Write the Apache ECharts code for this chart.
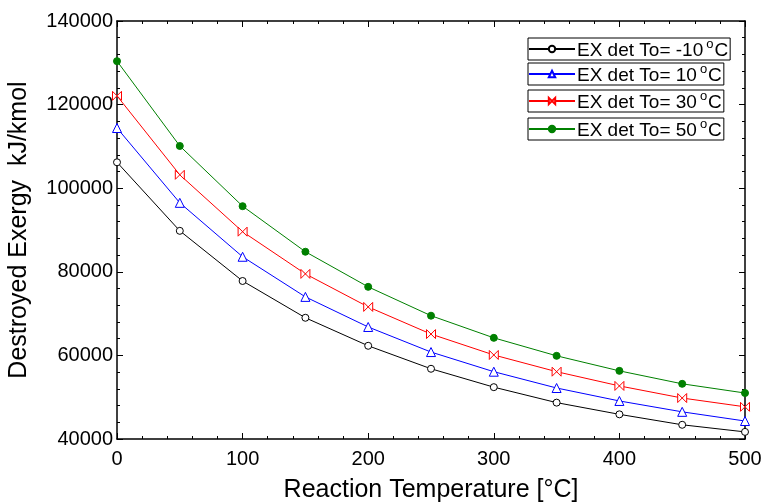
<!DOCTYPE html>
<html><head><meta charset="utf-8">
<script src="https://cdn.jsdelivr.net/npm/echarts@6/dist/echarts.min.js"></script>
<style>html,body{margin:0;padding:0;background:#fff}#c{width:766px;height:504px}</style>
</head><body><div id="c"></div>
<script>
const temps = [0, 50, 100, 150, 200, 250, 300, 350, 400, 450, 500];
const exM10 = [106200, 89800, 77800, 69000, 62300, 56800, 52400, 48700, 45900, 43400, 41700];
const ex10 = [114400, 96500, 83600, 74000, 66800, 60800, 56100, 52200, 49100, 46500, 44300];
const ex30 = [122100, 103200, 89600, 79500, 71600, 65100, 60100, 56100, 52700, 49800, 47700];
const ex50 = [130400, 110100, 95700, 84800, 76400, 69500, 64200, 59900, 56300, 53200, 51000];
const names = ['-10', '10', '30', '50'];
const xTicks = [0, 100, 200, 300, 400, 500];
const yTicks = [40000, 60000, 80000, 100000, 120000, 140000];

const font = '"Liberation Sans", Arial, sans-serif';
const bowtie = 'path://M0,0 L0,10 L10,0 L10,10 Z';
const cfg = [
  {data: exM10, color: '#000000', symbol: 'circle', size: 7, fill: '#ffffff'},
  {data: ex10, color: '#0000ff', symbol: 'triangle', size: 9, fill: '#ffffff'},
  {data: ex30, color: '#ff0000', symbol: bowtie, size: 9, fill: '#ffffff'},
  {data: ex50, color: '#008000', symbol: 'circle', size: 7, fill: '#008000'}
];
const series = cfg.map((c, i) => ({
  name: 'EX det To= ' + names[i],
  type: 'line',
  data: temps.map((t, j) => [t, c.data[j]]),
  symbol: c.symbol,
  symbolSize: c.size,
  showAllSymbol: true,
  lineStyle: {color: c.color, width: 1},
  itemStyle: {color: c.fill, borderColor: c.color, borderWidth: 1},
  z: 3 + i
}));
const legTops = [38, 63, 90, 118];
const legends = series.map((s, i) => ({
  data: [s.name],
  left: 528, top: legTops[i],
  orient: 'horizontal',
  borderColor: '#000', borderWidth: 1, borderRadius: 0,
  padding: [0, 2, 0, 0],
  itemWidth: 46, itemHeight: 8, itemGap: 0,
  textStyle: {
    fontFamily: font, fontSize: 19, color: '#000', padding: [0, 0, 0, -3],
    rich: {
      a: {fontFamily: font, fontSize: 19, color: '#000', lineHeight: 22, verticalAlign: 'bottom'},
      s: {fontFamily: font, fontSize: 13, color: '#000', lineHeight: 13, verticalAlign: 'top', padding: [0, 1, 0, 3]}
    }
  },
  formatter: n => '{a|' + n + '}{s|o}{a|C}'
}));

const axisCommon = {
  axisLine: {show: true, onZero: false, lineStyle: {color: '#000', width: 1.5}},
  axisTick: {show: true, inside: true, length: 6, lineStyle: {color: '#000'}},
  minorTick: {show: true, splitNumber: 5, length: 3, lineStyle: {color: '#000'}},
  splitLine: {show: false}
};
const chart = echarts.init(document.getElementById('c'));
chart.setOption({
  animation: false,
  backgroundColor: '#fff',
  grid: {left: 117, right: 21, top: 21, bottom: 65, outerBoundsMode: 'none', containLabel: false},
  legend: legends,
  xAxis: [
    Object.assign({
      type: 'value', min: xTicks[0], max: xTicks[xTicks.length - 1], interval: 100,
      name: 'Reaction Temperature [°C]', nameLocation: 'middle', nameGap: 39,
      nameTextStyle: {fontFamily: font, fontSize: 25, color: '#000'},
      axisLabel: {fontFamily: font, fontSize: 20, color: '#000', margin: 10}
    }, axisCommon),
    Object.assign({
      type: 'value', position: 'top', min: 0, max: 500, interval: 100,
      axisLabel: {show: false}
    }, axisCommon)
  ],
  yAxis: [
    Object.assign({
      type: 'value', min: yTicks[0], max: yTicks[yTicks.length - 1], interval: 20000,
      name: 'Destroyed Exergy  kJ/kmol', nameLocation: 'middle', nameGap: 85,
      nameTextStyle: {fontFamily: font, fontSize: 25, color: '#000'},
      axisLabel: {fontFamily: font, fontSize: 20, color: '#000', margin: 4, formatter: v => String(v)}
    }, axisCommon),
    Object.assign({
      type: 'value', position: 'right', min: 40000, max: 140000, interval: 20000,
      axisLabel: {show: false}
    }, axisCommon)
  ],
  series: series
});
</script></body></html>
